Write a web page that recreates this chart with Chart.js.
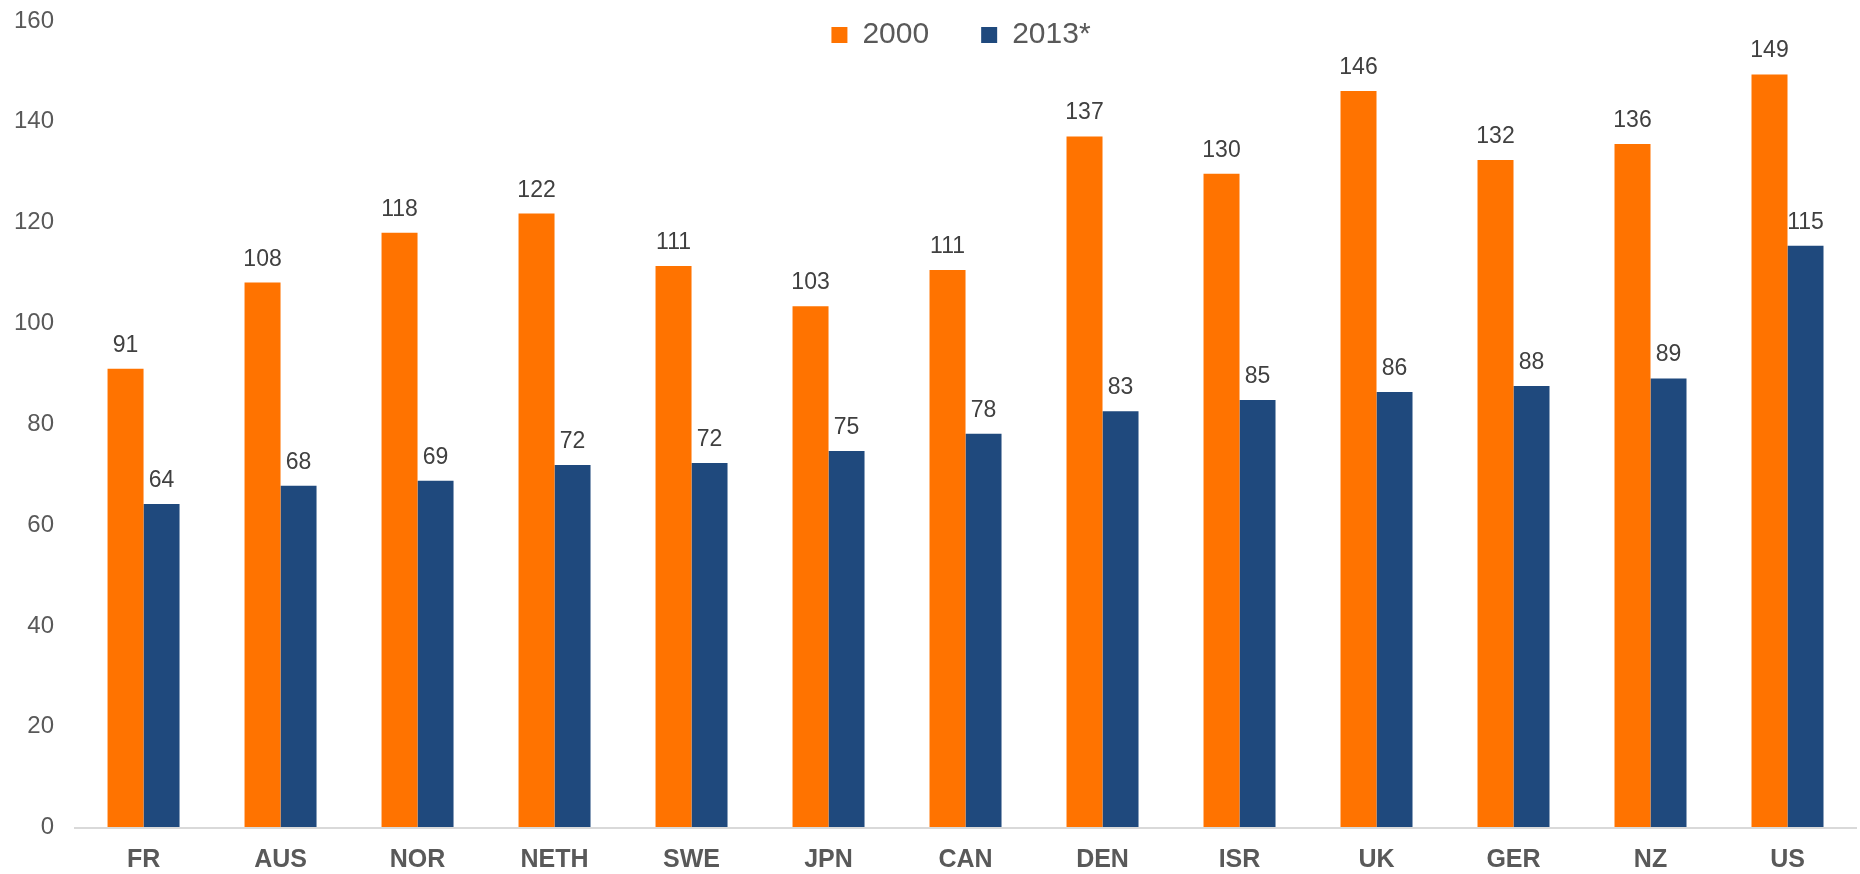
<!DOCTYPE html>
<html>
<head>
<meta charset="utf-8">
<script src="https://cdn.jsdelivr.net/npm/chart.js@4.4.1/dist/chart.umd.min.js"></script>
<style>
    body { margin: 0; background: #fff; }
    #wrap { width: 1860px; height: 874px; position: relative; }
</style>
</head>
<body>
<div id="wrap"><canvas id="barChart"></canvas></div>
<script>
// data
const countries = ['FR', 'AUS', 'NOR', 'NETH', 'SWE', 'JPN', 'CAN', 'DEN', 'ISR', 'UK', 'GER', 'NZ', 'US'];
const values2000 = [91.0, 108.1, 118.0, 121.8, 111.4, 103.4, 110.6, 137.1, 129.7, 146.1, 132.4, 135.6, 149.4];
const values2013 = [64.2, 67.8, 68.8, 71.9, 72.3, 74.7, 78.1, 82.6, 84.8, 86.4, 87.6, 89.1, 115.4];
const yTicks = { min: 0, max: 160, step: 20 };

const ORANGE = '#FF7300';
const BLUE = '#1F497D';
const FONT = "'Liberation Sans', Arial, sans-serif";

// value labels above each bar
const barValueLabels = {
    id: 'barValueLabels',
    afterDatasetsDraw(chart) {
        const ctx = chart.ctx;
        ctx.save();
        ctx.font = '23px ' + FONT;
        ctx.fillStyle = '#404040';
        ctx.textAlign = 'center';
        ctx.textBaseline = 'alphabetic';
        chart.data.datasets.forEach((ds, i) => {
            const meta = chart.getDatasetMeta(i);
            meta.data.forEach((bar, j) => {
                ctx.fillText(Math.round(ds.data[j]), bar.x, bar.y - 17);
            });
        });
        ctx.restore();
    }
};

// legend sits inside the plot area, over the top of the bars region
const legendInPlot = {
    id: 'legendInPlot',
    afterLayout(chart) {
        const lg = chart.legend;
        if (!lg) return;
        lg.left += 26;
        lg.right += 26;
        lg.top = -32;
        lg.bottom = 90;
        lg.height = 122;
    }
};

const ctx = document.getElementById('barChart').getContext('2d');
const chart = new Chart(ctx, {
    type: 'bar',
    data: {
        labels: countries,
        datasets: [
            {
                label: '2000',
                data: values2000,
                backgroundColor: ORANGE,
                borderWidth: 0
            },
            {
                label: '2013*',
                data: values2013,
                backgroundColor: BLUE,
                borderWidth: 0
            }
        ]
    },
    options: {
        responsive: true,
        maintainAspectRatio: false,
        animation: false,
        // x scale fit counts tick padding twice, hence the negative bottom
        layout: { padding: { top: 20, left: 14, right: 4, bottom: -19 } },
        datasets: {
            bar: { categoryPercentage: 72 / 137, barPercentage: 1 }
        },
        scales: {
            x: {
                grid: { display: false, drawTicks: false },
                border: { display: true, color: '#d9d9d9', width: 2 },
                ticks: {
                    color: '#595959',
                    padding: 19,
                    font: { family: FONT, size: 25, weight: 'bold', lineHeight: 1.1 }
                }
            },
            y: {
                min: yTicks.min,
                max: yTicks.max,
                // invisible tick marks give the gap between labels and bars
                grid: {
                    display: true,
                    drawOnChartArea: false,
                    drawTicks: true,
                    tickLength: 21,
                    tickColor: 'rgba(0,0,0,0)'
                },
                border: { display: false },
                ticks: {
                    stepSize: yTicks.step,
                    color: '#595959',
                    padding: 0,
                    font: { family: FONT, size: 24 }
                }
            }
        },
        plugins: {
            legend: {
                position: 'top',
                maxHeight: 1,
                labels: {
                    color: '#595959',
                    boxWidth: 16,
                    boxHeight: 16,
                    padding: 52,
                    font: { family: FONT, size: 30 }
                }
            },
            tooltip: { enabled: false }
        }
    },
    plugins: [barValueLabels, legendInPlot]
});
</script>
</body>
</html>
